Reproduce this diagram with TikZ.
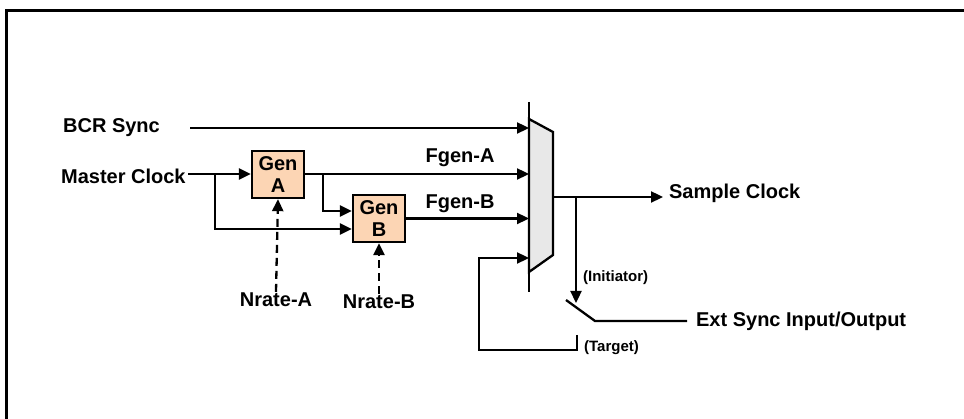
\documentclass[tikz,border=0pt]{standalone}
\usepackage{fontspec}
\setmainfont{Liberation Sans}
\usetikzlibrary{arrows.meta}
\definecolor{genfill}{HTML}{FCD5B4}
\definecolor{muxfill}{HTML}{E8E8E8}

\begin{document}
\begin{tikzpicture}[x=1pt,y=-1pt,line width=2.3pt,
  lbl/.style={font=\bfseries\fontsize{20}{22}\selectfont,inner sep=0pt},
  sml/.style={font=\bfseries\fontsize{15}{17}\selectfont,inner sep=0pt},
  genbox/.style={draw,fill=genfill,minimum width=52pt,minimum height=47pt,inner sep=0pt,align=center,font=\bfseries\fontsize{20}{22}\selectfont},
  sig/.style={-{Triangle[length=12pt,width=11pt]}}]
\useasboundingbox (0,0) rectangle (964,419);
\draw[line width=3.8pt] (6.5,419) -- (6.5,10.5) -- (964,10.5);
\node[lbl,anchor=west] (bcr) at (62,128) {BCR Sync};
\node[lbl,anchor=west] (mclk) at (60,176) {Master Clock};
\node[genbox] (gena) at (278,174.5) {Gen\\A};
\node[genbox] (genb) at (379,218.5) {Gen\\B};
\node[lbl] (nra) at (276,300) {Nrate-A};
\node[lbl] (nrb) at (379,302) {Nrate-B};
\node[lbl] (fga) at (460,158) {Fgen-A};
\node[lbl] (fgb) at (460,204) {Fgen-B};
\node[lbl,anchor=west] (sclk) at (668,193) {Sample Clock};
\node[lbl,anchor=west] (ext) at (695,321) {Ext Sync Input/Output};
\node[sml,anchor=west] (ini) at (582,278) {(Initiator)};
\node[sml,anchor=west] (tgt) at (583,348) {(Target)};
\coordinate (bcrs) at (190,128);
\coordinate (mo) at (553,197);
\coordinate (jo) at (576,197);
\coordinate (so) at (663,197);
\coordinate (sw1) at (566,300);
\coordinate (sw2) at (595,321);
\coordinate (sw3) at (687,321);
\coordinate (ts) at (577,335);
\draw[fill=muxfill] (529,119) -- (553,132) -- (553,255) -- (529,272) -- cycle;
\draw (529,102) coordinate (mt) -- (529,292) coordinate (mb);
\draw[sig] (bcrs) -- (bcrs -| mt);
\draw[sig] (188,174) -- (gena.west |- 0,174);
\draw[sig] (215,174) -- (215,229) -- (genb.west |- 0,229);
\draw[sig] (gena.east |- 0,174) -- (mt |- 0,174);
\draw[sig] (323,174) -- (323,211) -- (genb.west |- 0,211);
\draw[sig] (genb.east) -- (mt |- genb.east);
\draw[sig,dash pattern=on 8pt off 5pt] (nra.north) -- (gena.south);
\draw[sig,dash pattern=on 8pt off 5pt] (nrb.north) -- (genb.south);
\draw[sig] (mo) -- (so);
\draw[sig] (jo) -- (576,303);
\draw (sw1) -- (sw2) -- (sw3);
\draw[sig] (ts) -- (577,350) -- (479,350) -- (479,258) -- (mt |- 0,258);
\end{tikzpicture}
\end{document}
